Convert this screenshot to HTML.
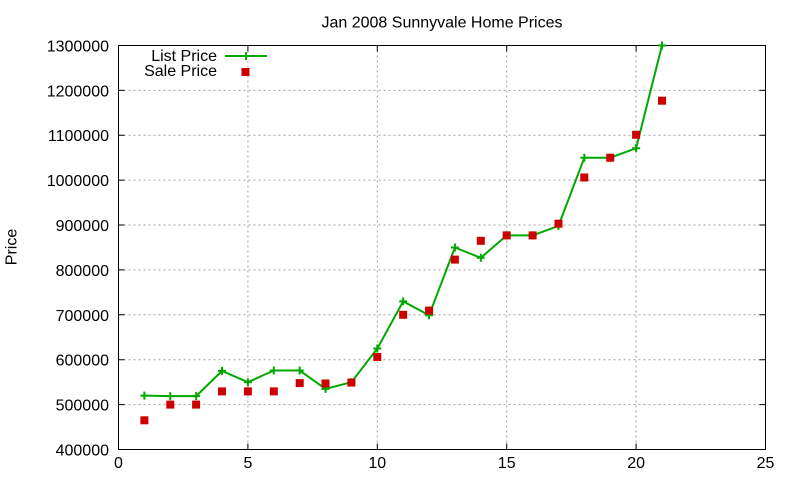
<!DOCTYPE html>
<html>
<head>
<meta charset="utf-8">
<style>
html,body{margin:0;padding:0;background:#fff;}
svg{display:block;}
text{font-family:"Liberation Sans",Arial,sans-serif;font-size:16px;fill:#000;}
</style>
</head>
<body>
<svg width="800" height="480" viewBox="0 0 800 480" xmlns="http://www.w3.org/2000/svg">
<rect x="0" y="0" width="800" height="480" fill="#fff"/>
<!-- grid -->
<g stroke="#a0a0a0" stroke-width="1" stroke-dasharray="2,3" fill="none">
  <line x1="118.5" y1="404.6" x2="765.5" y2="404.6"/>
  <line x1="118.5" y1="359.7" x2="765.5" y2="359.7"/>
  <line x1="118.5" y1="314.8" x2="765.5" y2="314.8"/>
  <line x1="118.5" y1="269.9" x2="765.5" y2="269.9"/>
  <line x1="118.5" y1="225.0" x2="765.5" y2="225.0"/>
  <line x1="118.5" y1="180.1" x2="765.5" y2="180.1"/>
  <line x1="118.5" y1="135.2" x2="765.5" y2="135.2"/>
  <line x1="118.5" y1="90.4" x2="765.5" y2="90.4"/>
  <line x1="247.9" y1="45.5" x2="247.9" y2="449.5"/>
  <line x1="377.3" y1="45.5" x2="377.3" y2="449.5"/>
  <line x1="506.7" y1="45.5" x2="506.7" y2="449.5"/>
  <line x1="636.1" y1="45.5" x2="636.1" y2="449.5"/>
</g>
<!-- ticks -->
<g stroke="#000" stroke-width="1">
  <path d="M118.5 404.6h6M118.5 359.7h6M118.5 314.8h6M118.5 269.9h6M118.5 225h6M118.5 180.1h6M118.5 135.2h6M118.5 90.4h6"/>
  <path d="M765.5 404.6h-6M765.5 359.7h-6M765.5 314.8h-6M765.5 269.9h-6M765.5 225h-6M765.5 180.1h-6M765.5 135.2h-6M765.5 90.4h-6"/>
  <path d="M247.9 449.5v-6M377.3 449.5v-6M506.7 449.5v-6M636.1 449.5v-6"/>
  <path d="M247.9 45.5v6M377.3 45.5v6M506.7 45.5v6M636.1 45.5v6"/>
</g>
<!-- border -->
<rect x="118.5" y="45.5" width="647" height="404" fill="none" stroke="#000" stroke-width="1"/>
<!-- y tick labels -->
<g text-anchor="end">
  <text x="109" y="455.5">400000</text>
  <text x="109" y="410.6">500000</text>
  <text x="109" y="365.7">600000</text>
  <text x="109" y="320.8">700000</text>
  <text x="109" y="275.9">800000</text>
  <text x="109" y="231">900000</text>
  <text x="109" y="186.1">1000000</text>
  <text x="109" y="141.2">1100000</text>
  <text x="109" y="96.4">1200000</text>
  <text x="109" y="51.5">1300000</text>
</g>
<!-- x tick labels -->
<g text-anchor="middle">
  <text x="118.5" y="468">0</text>
  <text x="247.9" y="468">5</text>
  <text x="377.3" y="468">10</text>
  <text x="506.7" y="468">15</text>
  <text x="636.1" y="468">20</text>
  <text x="765.5" y="468">25</text>
</g>
<!-- title -->
<text x="442" y="27.5" text-anchor="middle">Jan 2008 Sunnyvale Home Prices</text>
<!-- y label -->
<text transform="translate(16.5,247) rotate(-90)" text-anchor="middle">Price</text>
<!-- list price line -->
<polyline fill="none" stroke="#00a800" stroke-width="2" stroke-linejoin="round"
 points="144.38,395.6 170.26,396.1 196.14,396.1 222.02,370.9 247.9,382.2 273.78,370.5 299.66,370.5 325.54,388.9 351.42,382.2 377.3,348.5 403.18,301.4 429.06,315.3 454.94,247.5 480.82,257.8 506.7,235.4 532.58,235.4 558.46,225.9 584.34,157.7 610.22,157.7 636.1,148.3 661.98,45.5"/>
<!-- crosses -->
<g stroke="#00a800" stroke-width="2" fill="none">
  <path d="M140.4 395.6h8M144.38 391.6v8"/>
  <path d="M166.3 396.1h8M170.26 392.1v8"/>
  <path d="M192.1 396.1h8M196.14 392.1v8"/>
  <path d="M218 370.9h8M222.02 366.9v8"/>
  <path d="M243.9 382.2h8M247.9 378.2v8"/>
  <path d="M269.8 370.5h8M273.78 366.5v8"/>
  <path d="M295.7 370.5h8M299.66 366.5v8"/>
  <path d="M321.5 388.9h8M325.54 384.9v8"/>
  <path d="M347.4 382.2h8M351.42 378.2v8"/>
  <path d="M373.3 348.5h8M377.3 344.5v8"/>
  <path d="M399.2 301.4h8M403.18 297.4v8"/>
  <path d="M425.1 315.3h8M429.06 311.3v8"/>
  <path d="M450.9 247.5h8M454.94 243.5v8"/>
  <path d="M476.8 257.8h8M480.82 253.8v8"/>
  <path d="M502.7 235.4h8M506.7 231.4v8"/>
  <path d="M528.6 235.4h8M532.58 231.4v8"/>
  <path d="M554.5 225.9h8M558.46 221.9v8"/>
  <path d="M580.3 157.7h8M584.34 153.7v8"/>
  <path d="M606.2 157.7h8M610.22 153.7v8"/>
  <path d="M632.1 148.3h8M636.1 144.3v8"/>
  <path d="M658 45.5h8M661.98 41.5v8"/>
</g>
<!-- sale price squares -->
<g fill="#cc0000">
  <rect x="140.4" y="416.3" width="8" height="8"/>
  <rect x="166.3" y="400.6" width="8" height="8"/>
  <rect x="192.1" y="400.6" width="8" height="8"/>
  <rect x="218" y="387.4" width="8" height="8"/>
  <rect x="243.9" y="387.4" width="8" height="8"/>
  <rect x="269.8" y="387.4" width="8" height="8"/>
  <rect x="295.7" y="379.1" width="8" height="8"/>
  <rect x="321.5" y="379.5" width="8" height="8"/>
  <rect x="347.4" y="378.6" width="8" height="8"/>
  <rect x="373.3" y="353" width="8" height="8"/>
  <rect x="399.2" y="310.8" width="8" height="8"/>
  <rect x="425.1" y="306.6" width="8" height="8"/>
  <rect x="450.9" y="255.6" width="8" height="8"/>
  <rect x="476.8" y="236.8" width="8" height="8"/>
  <rect x="502.7" y="231.4" width="8" height="8"/>
  <rect x="528.6" y="231.4" width="8" height="8"/>
  <rect x="554.5" y="219.7" width="8" height="8"/>
  <rect x="580.3" y="173.5" width="8" height="8"/>
  <rect x="606.2" y="153.7" width="8" height="8"/>
  <rect x="632.1" y="130.8" width="8" height="8"/>
  <rect x="658" y="96.7" width="8" height="8"/>
</g>
<!-- legend -->
<text x="217" y="61" text-anchor="end">List Price</text>
<text x="217" y="76" text-anchor="end">Sale Price</text>
<g stroke="#00a800" stroke-width="2">
  <line x1="225" y1="56" x2="267" y2="56"/>
  <line x1="246" y1="52" x2="246" y2="60"/>
</g>
<rect x="241.5" y="68" width="8" height="8" fill="#cc0000"/>
</svg>
</body>
</html>
